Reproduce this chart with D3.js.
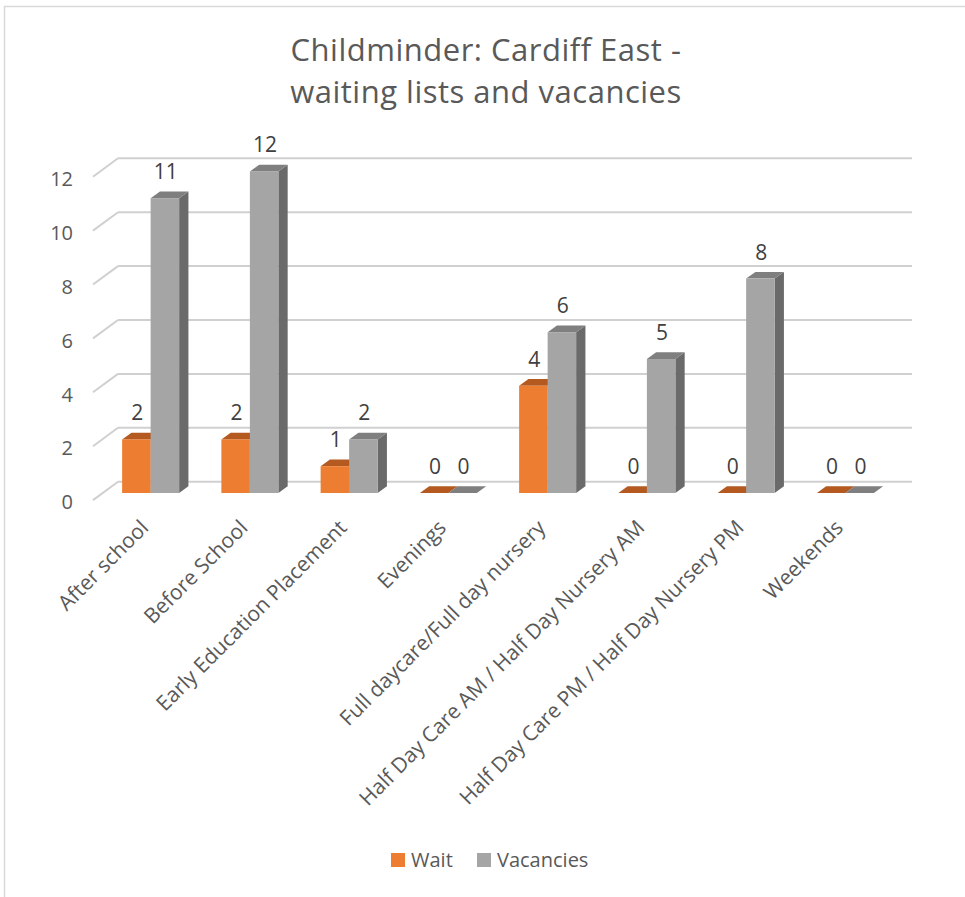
<!DOCTYPE html>
<html>
<head>
<meta charset="utf-8">
<script src="https://cdn.jsdelivr.net/npm/d3@7"></script>
<style>
	body { margin: 0; background: #fff; }
	text { font-family: "Open Sans", sans-serif; }
</style>
</head>
<body>
<div id="root"></div>
<script>

const categories = [
	"After school",
	"Before School",
	"Early Education Placement",
	"Evenings",
	"Full daycare/Full day nursery",
	"Half Day Care AM / Half Day Nursery AM",
	"Half Day Care PM / Half Day Nursery PM",
	"Weekends"
];
const seriesNames = ["Wait", "Vacancies"];
const waitValues = [2, 2, 1, 0, 4, 0, 0, 0];
const vacancyValues = [11, 12, 2, 0, 6, 5, 8, 0];
const yTicks = [0, 2, 4, 6, 8, 10, 12];

function whenDocumentLoaded(action) {
	if (document.readyState === "loading") {
		document.addEventListener("DOMContentLoaded", action);
	} else {
		action();
	}
}

function drawChart() {
	const width = 965;
	const height = 897;

	// depth offset of the 3D bars and of the floor
	const depth = {dx: 9.3, dy: -6.7};
	const floor = {dx: -25, dy: 18.4};

	const colors = {
		Wait: {front: "#ED7D31", top: "#B45A20", side: "#C0612A"},
		Vacancies: {front: "#A5A5A5", top: "#7F7F7F", side: "#6A6A6A"}
	};

	let svg = d3.select("#root")
				.append("svg")
				.attr("width", width)
				.attr("height", height);

	svg.append("rect")
		.attr("width", width)
		.attr("height", height)
		.attr("fill", "#fff");

	// chart border
	svg.append("rect")
		.attr("x", 4.5)
		.attr("y", 6.5)
		.attr("width", 1000)
		.attr("height", 1000)
		.attr("fill", "none")
		.attr("stroke", "#d9d9d9")
		.attr("stroke-width", 1.5);

	// title (two lines)
	const titleLines = ["Childminder: Cardiff East -", "waiting lists and vacancies"];
	svg.append("g").selectAll("text")
		.data(titleLines)
		.enter()
		.append("text")
		.attr("x", 486)
		.attr("y", (d, i) => 61 + i * 42)
		.attr("text-anchor", "middle")
		.attr("fill", "#595959")
		.style("font-size", "31px")
		.style("letter-spacing", "0.5px")
		.text(d => d);

	const x = d3.scaleBand()
		.domain(categories)
		.range([101, 895]);

	const xSub = d3.scaleBand()
		.domain(seriesNames)
		.range([0, 57]);

	// back wall scale and bar front-face scale
	const yWall = d3.scaleLinear().domain([0, 12]).range([481.7, 158.3]);
	const yBar = d3.scaleLinear().domain([0, 12]).range([493, 171.4]);

	const wallLeft = 118;
	const wallRight = 912;

	// gridlines: back wall + left side wall
	let grid = svg.append("g").attr("class", "grid")
		.attr("stroke", "#d0d0d0")
		.attr("stroke-width", 2)
		.attr("fill", "none");

	grid.selectAll(".back")
		.data(yTicks)
		.enter()
		.append("line")
		.attr("x1", wallLeft)
		.attr("x2", wallRight)
		.attr("y1", d => yWall(d))
		.attr("y2", d => yWall(d));

	grid.selectAll(".side")
		.data(yTicks)
		.enter()
		.append("line")
		.attr("x1", wallLeft)
		.attr("y1", d => yWall(d))
		.attr("x2", wallLeft + floor.dx)
		.attr("y2", d => yWall(d) + floor.dy);

	// y tick labels
	svg.append("g").selectAll("text")
		.data(yTicks)
		.enter()
		.append("text")
		.attr("x", 73)
		.attr("y", d => yWall(d) + floor.dy + 2)
		.attr("dy", "0.36em")
		.attr("text-anchor", "end")
		.attr("fill", "#595959")
		.style("font-size", "20px")
		.text(d => d);

	// bars
	const rows = [];
	categories.forEach((c, i) => {
		rows.push({cat: c, series: "Wait", value: waitValues[i]});
		rows.push({cat: c, series: "Vacancies", value: vacancyValues[i]});
	});

	const w = xSub.bandwidth();
	let bars = svg.append("g").attr("class", "bars");

	rows.forEach(d => {
		const x0 = x(d.cat) + x.bandwidth() / 2 - 28.5 + xSub(d.series);
		const yt = yBar(d.value);
		const yb = yBar(0);
		const col = colors[d.series];
		let g = bars.append("g");

		if (d.value > 0) {
			g.append("polygon")
				.attr("points", [[x0 + w, yt], [x0 + w + depth.dx, yt + depth.dy],
					[x0 + w + depth.dx, yb + depth.dy], [x0 + w, yb]].join(" "))
				.attr("fill", col.side);
		}
		g.append("polygon")
			.attr("points", [[x0, yt], [x0 + depth.dx, yt + depth.dy],
				[x0 + w + depth.dx, yt + depth.dy], [x0 + w, yt]].join(" "))
			.attr("fill", col.top);
		if (d.value > 0) {
			g.append("rect")
				.attr("x", x0)
				.attr("y", yt)
				.attr("width", w)
				.attr("height", yb - yt)
				.attr("fill", col.front);
		}

		// data label
		svg.append("text")
			.attr("x", x0 + w / 2 + 1)
			.attr("y", yt - 19)
			.attr("text-anchor", "middle")
			.attr("fill", "#404040")
			.style("font-size", "21px")
			.text(d.value);
	});

	// category labels, rotated
	svg.append("g").selectAll("text")
		.data(categories)
		.enter()
		.append("text")
		.attr("transform", d => "translate(" + (x(d) + x.bandwidth() / 2 - 1) + ",529) rotate(-45)")
		.attr("text-anchor", "end")
		.attr("fill", "#595959")
		.style("font-size", "21px")
		.text(d => d);

	// legend
	const legendItems = [
		{name: "Wait", x: 391},
		{name: "Vacancies", x: 477}
	];
	let legend = svg.append("g").attr("class", "legend");
	legend.selectAll("rect")
		.data(legendItems)
		.enter()
		.append("rect")
		.attr("x", d => d.x)
		.attr("y", 853)
		.attr("width", 14)
		.attr("height", 14)
		.attr("fill", d => colors[d.name].front);
	legend.selectAll("text")
		.data(legendItems)
		.enter()
		.append("text")
		.attr("x", d => d.x + 20)
		.attr("y", 867)
		.attr("fill", "#595959")
		.style("font-size", "20px")
		.text(d => d.name);
}

whenDocumentLoaded(drawChart);
</script>
</body>
</html>
